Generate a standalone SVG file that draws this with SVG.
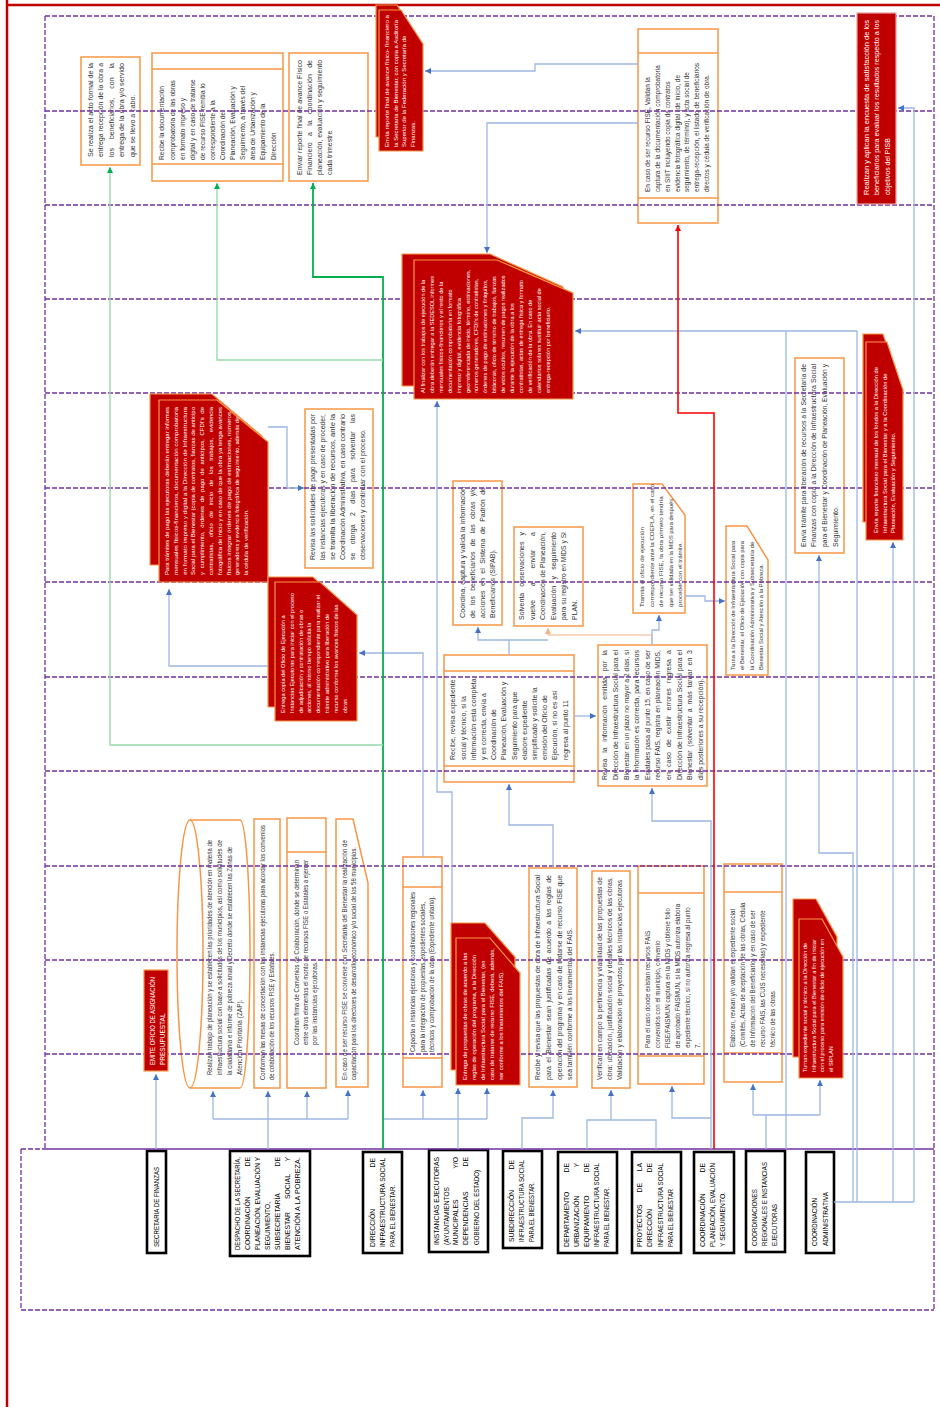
<svg xmlns="http://www.w3.org/2000/svg" width="940" height="1407" viewBox="0 0 940 1407">
<defs>
<style>
.t{font-family:"Liberation Sans",Arial,sans-serif;font-size:7px;fill:#333}
.w{fill:#fff}
.ob{fill:#fff;stroke:#f79646;stroke-width:1.5}
.ol{fill:none;stroke:#f79646;stroke-width:1.5}
.rb{fill:#c00000;stroke:#f79646;stroke-width:1.2}
.hd{fill:#fff;stroke:#000;stroke-width:2.6}
.ht{font-family:"Liberation Sans",Arial,sans-serif;font-size:6.8px;fill:#000}
.sep{fill:none;stroke:#7030a0;stroke-width:1.3;stroke-dasharray:5 2}
.fr{fill:none;stroke:#7030a0;stroke-width:1.3}
.cb{fill:none;stroke:#9db7e4;stroke-width:1.3}
.cg{fill:none;stroke:#00b050;stroke-width:1.8}
.clg{fill:none;stroke:#95d9aa;stroke-width:1.3}
.cr{fill:none;stroke:#ff0000;stroke-width:1.6}
.co{fill:none;stroke:#f8cbad;stroke-width:1.3}
</style>
<marker id="mb" viewBox="0 0 10 10" refX="10" refY="5" markerWidth="6" markerHeight="6" markerUnits="userSpaceOnUse" orient="auto"><path d="M0,0L10,5L0,10z" fill="#4472c4"/></marker>
<marker id="mg" viewBox="0 0 10 10" refX="10" refY="5" markerWidth="6" markerHeight="6" markerUnits="userSpaceOnUse" orient="auto"><path d="M0,0L10,5L0,10z" fill="#00b050"/></marker>
<marker id="mr" viewBox="0 0 10 10" refX="10" refY="5" markerWidth="6" markerHeight="6" markerUnits="userSpaceOnUse" orient="auto"><path d="M0,0L10,5L0,10z" fill="#ff0000"/></marker>
<marker id="mo" viewBox="0 0 10 10" refX="10" refY="5" markerWidth="6" markerHeight="6" markerUnits="userSpaceOnUse" orient="auto"><path d="M0,0L10,5L0,10z" fill="#f4b183"/></marker>
</defs>
<rect width="940" height="1407" fill="#fff"/>

<!-- headers -->
<g id="h-secretaria-finanzas">
<rect class="hd" x="147" y="1151" width="19" height="102"/>
<g transform="translate(147 1253) rotate(-90)" class="ht">
<text x="6" y="12.4" textLength="80" lengthAdjust="spacingAndGlyphs">SECRETARIA DE FINANZAS</text>
</g></g>
<g id="h-despacho">
<rect class="hd" x="230" y="1151" width="80" height="105"/>
<g transform="translate(230 1256) rotate(-90)" class="ht">
<text x="6" y="10.4" textLength="93" lengthAdjust="spacingAndGlyphs">DESPACHO DE LA SECRETARÍA,</text>
<text y="20.4"><tspan x="6">COORDINACIÓN</tspan><tspan x="99" text-anchor="end">DE</tspan></text>
<text x="6" y="30.4" textLength="93" lengthAdjust="spacingAndGlyphs">PLANEACIÓN, EVALUACIÓN Y</text>
<text x="6" y="40.4" textLength="48" lengthAdjust="spacingAndGlyphs">SEGUIMIENTO,</text>
<text y="50.4"><tspan x="6">SUBSECRETARÍA</tspan><tspan x="99" text-anchor="end">DE</tspan></text>
<text y="60.4"><tspan x="6">BIENESTAR</tspan><tspan x="57">SOCIAL</tspan><tspan x="99" text-anchor="end">Y</tspan></text>
<text x="6" y="70.4" textLength="93" lengthAdjust="spacingAndGlyphs">ATENCIÓN A LA POBREZA.</text>
</g></g>
<g id="h-direccion">
<rect class="hd" x="363" y="1152" width="39" height="101"/>
<g transform="translate(363 1253) rotate(-90)" class="ht">
<text y="12.3"><tspan x="6">DIRECCIÓN</tspan><tspan x="95" text-anchor="end">DE</tspan></text>
<text x="6" y="22.3" textLength="89" lengthAdjust="spacingAndGlyphs">INFRAESTRUCTURA SOCIAL</text>
<text x="6" y="32.3" textLength="62" lengthAdjust="spacingAndGlyphs">PARA EL BIENESTAR.</text>
</g></g>
<g id="h-instancias">
<rect class="hd" x="429" y="1150" width="59" height="102"/>
<g transform="translate(429 1252) rotate(-90)" class="ht">
<text x="7" y="10.3" textLength="88" lengthAdjust="spacingAndGlyphs">INSTANCIAS EJECUTORAS</text>
<text x="7" y="19.6" textLength="58" lengthAdjust="spacingAndGlyphs">(AYUNTAMIENTOS</text>
<text y="29.3"><tspan x="7">MUNICIPALES</tspan><tspan x="95" text-anchor="end">Y/O</tspan></text>
<text y="39.3"><tspan x="7">DEPENDENCIAS</tspan><tspan x="95" text-anchor="end">DE</tspan></text>
<text x="7" y="50" textLength="75" lengthAdjust="spacingAndGlyphs">GOBIERNO DEL ESTADO)</text>
</g></g>
<g id="h-subdireccion">
<rect class="hd" x="503" y="1151" width="39" height="97"/>
<g transform="translate(503 1248) rotate(-90)" class="ht">
<text y="11.3"><tspan x="6">SUBDIRECCIÓN</tspan><tspan x="88" text-anchor="end">DE</tspan></text>
<text x="6" y="21.3" textLength="82" lengthAdjust="spacingAndGlyphs">INFRAESTRUCTURA SOCIAL</text>
<text x="6" y="31.3" textLength="60" lengthAdjust="spacingAndGlyphs">PARA EL BIENESTAR.</text>
</g></g>
<g id="h-departamento">
<rect class="hd" x="558" y="1152" width="59" height="101"/>
<g transform="translate(558 1253) rotate(-90)" class="ht">
<text y="11.3"><tspan x="6">DEPARTAMENTO</tspan><tspan x="90" text-anchor="end">DE</tspan></text>
<text y="21.3"><tspan x="6">URBANIZACIÓN</tspan><tspan x="90" text-anchor="end">Y</tspan></text>
<text y="31.3"><tspan x="6">EQUIPAMIENTO</tspan><tspan x="90" text-anchor="end">DE</tspan></text>
<text x="6" y="41.3" textLength="84" lengthAdjust="spacingAndGlyphs">INFRAESTRUCTURA SOCIAL</text>
<text x="6" y="51.3" textLength="60" lengthAdjust="spacingAndGlyphs">PARA EL BIENESTAR.</text>
</g></g>
<g id="h-proyectos">
<rect class="hd" x="632" y="1152" width="49" height="101"/>
<g transform="translate(632 1253) rotate(-90)" class="ht">
<text y="10.3"><tspan x="6">PROYECTOS</tspan><tspan x="60.5">DE</tspan><tspan x="90" text-anchor="end">LA</tspan></text>
<text y="20.3"><tspan x="6">DIRECCIÓN</tspan><tspan x="90" text-anchor="end">DE</tspan></text>
<text x="6" y="31.3" textLength="84" lengthAdjust="spacingAndGlyphs">INFRAESTRUCTURA SOCIAL</text>
<text x="6" y="41.3" textLength="58" lengthAdjust="spacingAndGlyphs">PARA EL BIENESTAR</text>
</g></g>
<g id="h-coord-planeacion">
<rect class="hd" x="694" y="1152" width="40" height="101"/>
<g transform="translate(694 1253) rotate(-90)" class="ht">
<text y="11.3"><tspan x="6">COORDINACIÓN</tspan><tspan x="90" text-anchor="end">DE</tspan></text>
<text x="6" y="21.3" textLength="84" lengthAdjust="spacingAndGlyphs">PLANEACIÓN, EVALUACIÓN</text>
<text x="6" y="31.3" textLength="55" lengthAdjust="spacingAndGlyphs">Y SEGUIMIENTO.</text>
</g></g>
<g id="h-coord-regionales">
<rect class="hd" x="746" y="1151" width="39" height="101"/>
<g transform="translate(746 1252) rotate(-90)" class="ht">
<text x="6" y="11.3" textLength="57" lengthAdjust="spacingAndGlyphs">COORDINACIONES</text>
<text x="6" y="21.3" textLength="84" lengthAdjust="spacingAndGlyphs">REGIONALES E INSTANCIAS</text>
<text x="6" y="31.3" textLength="42" lengthAdjust="spacingAndGlyphs">EJECUTORAS</text>
</g></g>
<g id="h-coord-administrativa">
<rect class="hd" x="806" y="1152" width="28" height="101"/>
<g transform="translate(806 1253) rotate(-90)" class="ht">
<text x="7" y="11.3" textLength="48" lengthAdjust="spacingAndGlyphs">COORDINACIÓN</text>
<text x="7" y="22.3" textLength="54" lengthAdjust="spacingAndGlyphs">ADMINISTRATIVA</text>
</g></g>

<!-- orange nodes -->
<g id="n-acto-entrega">
<rect class="ob" x="81" y="57" width="59" height="108"/>
<g transform="translate(81 165) rotate(-90)" class="t">
<text x="8" y="11.5" textLength="94" lengthAdjust="spacingAndGlyphs">Se realiza el acto formal de la</text>
<text x="8" y="22" textLength="94" lengthAdjust="spacingAndGlyphs">entrega recepción de la obra a</text>
<text x="8" y="32.5" textLength="94" lengthAdjust="spacing" style="word-spacing:7px">los beneficiarios, con la</text>
<text x="8" y="43" textLength="94" lengthAdjust="spacingAndGlyphs">entrega de la obra y/o servido</text>
<text x="8" y="53.5">que se llevo a cabo.</text>
</g></g>
<g id="n-recibe-documentacion">
<rect class="ob" x="152" y="53" width="131" height="128"/>
<path class="ol" d="M152,69H283M152,164H283"/>
<g transform="translate(152 181) rotate(-90)" class="t" style="font-size:6.6px">
<text x="21" y="12.4">Recibe la documentación</text>
<text x="21" y="22.5">comprobatoria de las obras</text>
<text x="21" y="32.6">en formato impreso y</text>
<text x="21" y="42.7">digital y en caso de tratarse</text>
<text x="21" y="52.8">de recurso FISE remitía lo</text>
<text x="21" y="62.9">correspondiente a la</text>
<text x="21" y="73">Coordinación de</text>
<text x="21" y="83.1">Planeación, Evaluación y</text>
<text x="21" y="93.2">Seguimiento, a través del</text>
<text x="21" y="103.3">área de Urbanización y</text>
<text x="21" y="113.4">Equipamiento de la</text>
<text x="21" y="123.5">Dirección</text>
</g></g>
<g id="n-reporte-final-trimestre">
<rect class="ob" x="289" y="53" width="79" height="128"/>
<g transform="translate(289 181) rotate(-90)" class="t">
<text x="6" y="13.4" textLength="115" lengthAdjust="spacingAndGlyphs">Enviar reporte final de avance Físico</text>
<text x="6" y="23.4" textLength="115" lengthAdjust="spacing" style="word-spacing:4.4px">Financiero a la coordinación de</text>
<text x="6" y="33.4" textLength="115" lengthAdjust="spacingAndGlyphs">planeación, evaluación y seguimiento</text>
<text x="6" y="43.4">cada trimestre</text>
</g></g>
<g id="n-valida-fise">
<rect class="ob" x="638" y="29" width="80" height="194"/>
<path class="ol" d="M638,53H718M638,198H718"/>
<g transform="translate(638 223) rotate(-90)" class="t" style="font-size:6.5px">
<text x="31" y="12.4">En caso de ser recurso FISE, Validan la</text>
<text x="31" y="22.1">captura de la documentación comprobatoria</text>
<text x="31" y="31.8">en SIIIT incluyendo copia de contratos</text>
<text x="31" y="41.5">evidencia fotográfica digital (de inicio, de</text>
<text x="31" y="51.2">seguimiento, de término), y acta social de</text>
<text x="31" y="60.9">entrega-recepción, el listado de beneficiarios</text>
<text x="31" y="70.6">directos y cédula de verificación de obra.</text>
</g></g>
<g id="n-revisa-solicitudes-pago">
<rect class="ob" x="305" y="409" width="68" height="159"/>
<g transform="translate(305 568) rotate(-90)" class="t">
<text x="8" y="10.4" textLength="146" lengthAdjust="spacingAndGlyphs">Revisa las solicitudes de pago presentadas por</text>
<text x="8" y="20.4" textLength="146" lengthAdjust="spacingAndGlyphs">las instancias ejecutoras y en caso de proceder,</text>
<text x="8" y="30.4" textLength="146" lengthAdjust="spacingAndGlyphs">se tramita la liberación de recursos, ante la</text>
<text x="8" y="40.4" textLength="146" lengthAdjust="spacingAndGlyphs">Coordinación Administrativa, en caso contrario</text>
<text x="8" y="50.4" textLength="146" lengthAdjust="spacing" style="word-spacing:6.5px">se otorga 2 días para solventar las</text>
<text x="8" y="60.4">observaciones y continuar con el proceso.</text>
</g></g>
<g id="n-sipab">
<rect class="ob" x="453" y="481" width="49" height="144"/>
<g transform="translate(453 625) rotate(-90)" class="t">
<text x="7" y="12.4" textLength="131" lengthAdjust="spacingAndGlyphs">Coordina, captura y valida la información</text>
<text x="7" y="22.4" textLength="131" lengthAdjust="spacing" style="word-spacing:3.3px">de los beneficiarios de las obras y/o</text>
<text x="7" y="32.4" textLength="131" lengthAdjust="spacing" style="word-spacing:2.5px">acciones en el Sistema de Padrón de</text>
<text x="7" y="42.4">Beneficiarios (SIPAB).</text>
</g></g>
<g id="n-solventa">
<rect class="ob" x="514" y="527" width="69" height="99"/>
<g transform="translate(514 626) rotate(-90)" class="t">
<text x="6" y="10.4" textLength="88" lengthAdjust="spacing" style="word-spacing:4.1px">Solventa observaciones y</text>
<text x="6" y="20.9" textLength="88" lengthAdjust="spacing" style="word-spacing:11.7px">vuelve a enviar a</text>
<text x="6" y="31.4" textLength="88" lengthAdjust="spacingAndGlyphs">Coordinación de Planeación,</text>
<text x="6" y="41.9" textLength="88" lengthAdjust="spacing" style="word-spacing:4.3px">Evaluación y seguimiento</text>
<text x="6" y="52.4" textLength="88" lengthAdjust="spacingAndGlyphs">para su registro en MIDS y SI</text>
<text x="6" y="62.9">PLAN.</text>
</g></g>
<g id="n-revisa-expediente">
<rect class="ob" x="444" y="655" width="130" height="127"/>
<path class="ol" d="M444,671H574M444,766H574"/>
<g transform="translate(444 782) rotate(-90)" class="t">
<text x="22" y="11.4">Recibe, revisa expediente</text>
<text x="22" y="21.6">social y técnico, si la</text>
<text x="22" y="31.8">información está completa</text>
<text x="22" y="42">y es correcta, envía a</text>
<text x="22" y="52.2">Coordinación de</text>
<text x="22" y="62.4">Planeación, Evaluación y</text>
<text x="22" y="72.6">Seguimiento para que</text>
<text x="22" y="82.8">elabore expediente</text>
<text x="22" y="93">simplificado y solicite la</text>
<text x="22" y="103.2">emisión del Oficio de</text>
<text x="22" y="113.4">Ejecución, si no es así</text>
<text x="22" y="123.6">regresa al punto 11</text>
</g></g>
<g id="n-revisa-informacion">
<rect class="ob" x="598" y="645" width="109" height="141"/>
<g transform="translate(598 786) rotate(-90)" class="t">
<text x="6" y="9.4" textLength="130" lengthAdjust="spacing" style="word-spacing:3.8px">Revisa la información emitida por la</text>
<text x="6" y="20" textLength="130" lengthAdjust="spacingAndGlyphs">Dirección de Infraestructura Social para el</text>
<text x="6" y="30.6" textLength="130" lengthAdjust="spacingAndGlyphs">Bienestar en un plazo no mayor a 2 días, si</text>
<text x="6" y="41.2" textLength="130" lengthAdjust="spacingAndGlyphs">la información es correcta, para recursos</text>
<text x="6" y="51.8" textLength="130" lengthAdjust="spacingAndGlyphs">Estatales pasa al punto 15, en caso de ser</text>
<text x="6" y="62.4" textLength="130" lengthAdjust="spacingAndGlyphs">recurso FAIS, registra en planeación MIDS,</text>
<text x="6" y="73" textLength="130" lengthAdjust="spacing" style="word-spacing:3.3px">en caso de existir errores regresa a</text>
<text x="6" y="83.6" textLength="130" lengthAdjust="spacingAndGlyphs">Dirección de Infraestructura Social para el</text>
<text x="6" y="94.2" textLength="130" lengthAdjust="spacing" style="word-spacing:1.8px">Bienestar (solventar a más tardar en 3</text>
<text x="6" y="104.8">días posteriores a su recepción).</text>
</g></g>
<g id="n-tramita-oficio">
<path class="ob" d="M633,484H662L685,515V613H633Z"/>
<g transform="translate(633 613) rotate(-90)" class="t" style="font-size:6.2px">
<text x="6" y="11">Tramita el oficio de ejecución</text>
<text x="6" y="20.5">correspondiente ante la COEPLA, en el caso</text>
<text x="6" y="30">de recurso FISE, la obra primero tendría</text>
<text x="6" y="39.5" textLength="108" lengthAdjust="spacingAndGlyphs">que ser validada en la MIDS para después</text>
<text x="6" y="49">proceder con el trámite.</text>
</g></g>
<g id="n-turna-oficio">
<path class="ob" d="M726,526H747L768,560V675H726Z"/>
<g transform="translate(726 675) rotate(-90)" class="t" style="font-size:5.8px">
<text x="5" y="9">Turna a la Dirección de Infraestructura Social para</text>
<text x="5" y="18.3">el Bienestar, el Oficio de Ejecución con copia para</text>
<text x="5" y="27.6">la Coordinación Administrativa y Subsecretaría de</text>
<text x="5" y="36.9">Bienestar Social y Atención a la Pobreza.</text>
</g></g>
<g id="n-tramite-liberacion">
<rect class="ob" x="795" y="358" width="49" height="195"/>
<g transform="translate(795 553) rotate(-90)" class="t">
<text x="6" y="10.5" textLength="183" lengthAdjust="spacingAndGlyphs">Envía trámite para liberación de recursos a la Secretaría de</text>
<text x="6" y="21.3" textLength="183" lengthAdjust="spacingAndGlyphs">Finanzas con copia a la Dirección de Infraestructura Social</text>
<text x="6" y="32.1" textLength="183" lengthAdjust="spacingAndGlyphs">para el Bienestar y Coordinación de Planeación, Evaluación y</text>
<text x="6" y="42.9">Seguimiento.</text>
</g></g>
<g id="n-planeacion-zap">
<path class="ob" d="M190,820H240A10,134 0 0 1 240,1088H190A13,134 0 0 1 190,820Z"/>
<path class="ol" d="M190,820A13,134 0 0 1 190,1088"/>
<g transform="translate(200 1088) rotate(-90)" class="t" style="font-size:6.5px">
<text x="13" y="12.3" textLength="235" lengthAdjust="spacingAndGlyphs">Realizan trabajo de planeación y se establecen las prioridades de atención en materia de</text>
<text x="13" y="22.3" textLength="235" lengthAdjust="spacingAndGlyphs">infraestructura social con base a solicitudes de los municipios, así como solicitudes de</text>
<text x="13" y="32.3" textLength="228" lengthAdjust="spacingAndGlyphs">la ciudadanía e informe de pobreza anual y Decreto donde se establecen las Zonas de</text>
<text x="13" y="42.3">Atención Prioritaria (ZAP).</text>
</g></g>
<g id="n-mesas-concertacion">
<rect class="ob" x="254" y="819" width="26" height="269"/>
<g transform="translate(254 1088) rotate(-90)" class="t" style="font-size:6.5px">
<text x="8" y="11.3" textLength="255" lengthAdjust="spacingAndGlyphs">Conforman las mesas de concertación con las instancias ejecutoras para acordar los convenios</text>
<text x="8" y="20.3" textLength="128" lengthAdjust="spacingAndGlyphs">de colaboración de los recursos FISE y Estatales.</text>
</g></g>
<g id="n-firma-convenios">
<rect class="ob" x="287" y="818" width="39" height="270"/>
<path class="ol" d="M287,852H326"/>
<g transform="translate(287 1088) rotate(-90)" class="t" style="font-size:6.5px">
<text x="43" y="12.3" textLength="185" lengthAdjust="spacingAndGlyphs">Coordinan firma de Convenios de Colaboración, donde se determinan</text>
<text x="43" y="21.3" textLength="185" lengthAdjust="spacingAndGlyphs">entre otros elementos el monto de recursos FISE o Estatales a ejercer</text>
<text x="43" y="30.3">por las instancias ejecutoras.</text>
</g></g>
<g id="n-capacitacion-fise">
<path class="ob" d="M336,819H353L368,883V1087H336Z"/>
<g transform="translate(336 1087) rotate(-90)" class="t" style="font-size:6.3px">
<text x="7" y="11.2" textLength="240" lengthAdjust="spacingAndGlyphs">En caso de ser recurso FISE se conviene con Secretaría del Bienestar la realización de</text>
<text x="7" y="20.2" textLength="233" lengthAdjust="spacingAndGlyphs">capacitación para los directores de desarrollo económico y/o social de los 58 municipios.</text>
</g></g>
<g id="n-capacita-instancias">
<rect class="ob" x="403" y="857" width="39" height="230"/>
<path class="ol" d="M403,887H442M403,1058H442"/>
<g transform="translate(403 1087) rotate(-90)" class="t" style="font-size:6.3px">
<text x="35" y="12.2" textLength="160" lengthAdjust="spacingAndGlyphs">Capacita a instancias ejecutoras y coordinaciones regionales</text>
<text x="35" y="21.7" textLength="150" lengthAdjust="spacingAndGlyphs">para la integración de propuestas, expedientes sociales,</text>
<text x="35" y="31.2" textLength="156" lengthAdjust="spacingAndGlyphs">técnicos y comprobación de la obra (Expediente unitario).</text>
</g></g>
<g id="n-recibe-propuestas">
<rect class="ob" x="529" y="868" width="48" height="219"/>
<g transform="translate(529 1087) rotate(-90)" class="t">
<text x="7" y="11.4" textLength="205" lengthAdjust="spacingAndGlyphs">Recibe y revisa que las propuestas de obra de Infraestructura Social</text>
<text x="7" y="22" textLength="205" lengthAdjust="spacing" style="word-spacing:1.4px">para el Bienestar sean justificadas de acuerdo a las reglas de</text>
<text x="7" y="32.6" textLength="205" lengthAdjust="spacingAndGlyphs">operación del programa y en caso de tratarse de recurso FISE que</text>
<text x="7" y="43.2" textLength="152" lengthAdjust="spacingAndGlyphs">sea también conforme a los lineamientos del FAIS.</text>
</g></g>
<g id="n-verifican-campo">
<rect class="ob" x="592" y="871" width="38" height="217"/>
<g transform="translate(592 1088) rotate(-90)" class="t">
<text x="8" y="10.4" textLength="203" lengthAdjust="spacingAndGlyphs">Verifican en campo la pertinencia y viabilidad de las propuestas de</text>
<text x="8" y="20.4" textLength="203" lengthAdjust="spacingAndGlyphs">obra: ubicación, justificación social y detalles técnicos de las obras.</text>
<text x="8" y="30.4" textLength="200" lengthAdjust="spacingAndGlyphs">Validación y elaboración de proyectos por las instancias ejecutoras</text>
</g></g>
<g id="n-mids-faismun">
<rect class="ob" x="638" y="866" width="66" height="218"/>
<path class="ol" d="M638,893H704M638,1056H704"/>
<g transform="translate(638 1084) rotate(-90)" class="t" style="font-size:6.3px">
<text x="36" y="12.3">Para el caso donde existan recursos FAIS</text>
<text x="36" y="22.3">convenidos con el municipio, convenio</text>
<text x="36" y="32.3">FISE/FAISMUN captura en la MIDS y obtiene folio</text>
<text x="36" y="42.3">de aprobado FAISMUN, si la MIDS autoriza elabora</text>
<text x="36" y="52.3">expediente técnico, si no autoriza regresa al punto</text>
<text x="36" y="62.3">7.</text>
</g></g>
<g id="n-expediente-social">
<rect class="ob" x="724" y="864" width="58" height="218"/>
<path class="ol" d="M724,892H782M724,1053H782"/>
<g transform="translate(724 1082) rotate(-90)" class="t" style="font-size:6.3px">
<text x="35" y="11.3">Elaboran, revisan y/o validan el expediente social</text>
<text x="35" y="21.3">(Comités, Actas de aceptación de las obras, Cédula</text>
<text x="35" y="31.3">de Información del Beneficiario) y en caso de ser</text>
<text x="35" y="41.3">recurso FAIS, las CUIS necesarias) y expediente</text>
<text x="35" y="51.3">técnico de las obras</text>
</g></g>

<!-- frame and stage separators -->
<g id="frame">
<path d="M7,0V1407M7,5H940" fill="none" stroke="#c00000" stroke-width="2.5"/>
<path class="sep" d="M45,111H934M45,205H934M45,299H934M45,393H934M45,488H934M45,582H934M45,677H934M45,771H934M45,866H934M45,960H934M45,1054H934"/>
<path class="sep" d="M45,16H934M45,16V1149M934,16V1310M21,1149V1310M21,1310H934M21,1149H45"/>
<path class="fr" d="M45,1149H934"/>
</g>

<!-- connectors -->
<g id="connectors">
<path class="cb" d="M156,1149V1074" marker-end="url(#mb)"/>
<path class="cb" d="M213,1119H348"/>
<path class="cb" d="M213,1119V1091" marker-end="url(#mb)"/>
<path class="cb" d="M268,1149V1091" marker-end="url(#mb)"/>
<path class="cb" d="M307,1119V1091" marker-end="url(#mb)"/>
<path class="cb" d="M348,1119V1090" marker-end="url(#mb)"/>
<path class="cb" d="M383,1119H487"/>
<path class="cb" d="M423,1119V1090" marker-end="url(#mb)"/>
<path class="cb" d="M487,1119V1088" marker-end="url(#mb)"/>
<path class="cb" d="M458,1149V1088" marker-end="url(#mb)"/>
<path class="cb" d="M522,1149V1118H553V1090" marker-end="url(#mb)"/>
<path class="cb" d="M553,868V825H509V784" marker-end="url(#mb)"/>
<path class="cb" d="M509,655V640H478V627" marker-end="url(#mb)"/>
<path class="cb" d="M509,640H548"/>
<path class="co" d="M652,645V635H548V628" marker-end="url(#mo)"/>
<path class="cb" d="M574,716H596" marker-end="url(#mb)"/>
<path class="cb" d="M652,645V630H659V615" marker-end="url(#mb)"/>
<path class="cb" d="M685,596H705V601H725" marker-end="url(#mb)"/>
<path class="cb" d="M711,1149V821H652V788" marker-end="url(#mb)"/>
<path class="cb" d="M711,1118H672V1086" marker-end="url(#mb)"/>
<path class="cb" d="M587,1149V1120H656V1149"/>
<path class="cb" d="M611,1120V1090" marker-end="url(#mb)"/>
<path class="cb" d="M766,1149V1115M753,1115H820"/>
<path class="cb" d="M753,1115V1084" marker-end="url(#mb)"/>
<path class="cb" d="M820,1115V1080" marker-end="url(#mb)"/>
<path class="cb" d="M452,923V792H437V401" marker-end="url(#mb)"/>
<path class="cb" d="M423,857V653H359" marker-end="url(#mb)"/>
<path class="cb" d="M268,666H169V589" marker-end="url(#mb)"/>
<path class="cb" d="M268,427H287V488H304" marker-end="url(#mb)"/>
<path class="cb" d="M638,64H535V71H425" marker-end="url(#mb)"/>
<path class="cb" d="M638,123H487V253" marker-end="url(#mb)"/>
<path class="cb" d="M834,1202H914M786,1149V331"/>
<path class="cb" d="M914,1202V108H898" marker-end="url(#mb)"/>
<path class="cb" d="M893,1202V542" marker-end="url(#mb)"/>
<path class="cb" d="M857,1202V331H575" marker-end="url(#mb)"/>
<path class="cb" d="M853,1202V853H819V555" marker-end="url(#mb)"/>
<path class="cg" d="M383,1149V277H313V183" marker-end="url(#mg)"/>
<path class="clg" d="M383,745H110V167" marker-end="url(#mg)"/>
<path class="clg" d="M383,360H217V183" marker-end="url(#mg)"/>
<path class="cr" d="M714,1149V413H678V225" marker-end="url(#mr)"/>
</g>

<!-- red nodes -->
<g id="n-reporte-final-secretaria">
<path class="rb" d="M376,5H397L419,40V137H376Z"/>
<path class="rb" d="M379,10H401L423,44V151H379Z"/>
<g transform="translate(379 151) rotate(-90)" class="t w" style="font-size:6px">
<text x="4" y="10" textLength="132" lengthAdjust="spacingAndGlyphs">Envía reporte final de avance físico- financiero a</text>
<text x="4" y="18.5" textLength="127" lengthAdjust="spacingAndGlyphs">la Secretaría de Bienestar, con copia a Auditoría</text>
<text x="4" y="27">Superior de la Federación y Secretaría de</text>
<text x="4" y="35.5">Finanzas.</text>
</g></g>
<g id="n-encuesta-satisfaccion">
<rect class="rb" x="857" y="13" width="39" height="191" style="stroke:#e6a0a0"/>
<g transform="translate(857 204) rotate(-90)" class="t w">
<text x="9" y="11.5" textLength="175" lengthAdjust="spacingAndGlyphs">Realizan y aplican la encuesta de satisfacción de los</text>
<text x="9" y="22" textLength="175" lengthAdjust="spacingAndGlyphs">beneficiarios para evaluar los resultados respecto a los</text>
<text x="9" y="32.5">objetivos del PISB</text>
</g></g>
<g id="n-documentacion-final">
<path class="rb" d="M402,254H490L563,287V386H402Z"/>
<path class="rb" d="M414,260H497L573,293V399H414Z"/>
<g transform="translate(414 399) rotate(-90)" class="t w" style="font-size:5.6px">
<text x="6" y="11">Al finalizar con los trabajos de ejecución de la</text>
<text x="6" y="19.9">obra deberán entregar a la SEDESOL informes</text>
<text x="6" y="28.8">mensuales físicos-financieros y el resto de la</text>
<text x="6" y="37.7">documentación comprobatoria en formato</text>
<text x="6" y="46.6">impreso y digital, evidencia fotográfica</text>
<text x="6" y="55.5">georreferenciada de inicio, término, estimaciones,</text>
<text x="6" y="64.4">números generadores, CFDI's de contratistas,</text>
<text x="6" y="73.3">órdenes de pago de estimaciones y finiquitos,</text>
<text x="6" y="82.2">bitácoras, oficio de término de trabajos, fianzas</text>
<text x="6" y="91.1">de vicios ocultos, resumen de pagos realizados</text>
<text x="6" y="100">durante la ejecución de la obra a los</text>
<text x="6" y="108.9">contratistas, actas de entrega física y formato</text>
<text x="6" y="117.8">de verificación de la obra. En caso de</text>
<text x="6" y="126.7">calendarios solares sustituir acta social de</text>
<text x="6" y="135.6">entrega-recepción por beneficiario.</text>
</g></g>
<g id="n-tramites-pago">
<path class="rb" d="M150,394H212L262,436V565H150Z"/>
<path class="rb" d="M159,400H217L268,442V582H159Z"/>
<g transform="translate(159 582) rotate(-90)" class="t w" style="font-size:6px">
<text x="7" y="10" textLength="168" lengthAdjust="spacingAndGlyphs">Para trámites de pago las ejecutoras deberán entregar informes</text>
<text x="7" y="18.8" textLength="168" lengthAdjust="spacingAndGlyphs">mensuales físicos-financieros, documentación comprobatoria</text>
<text x="7" y="27.6" textLength="168" lengthAdjust="spacingAndGlyphs">en formato impreso y digital a la Dirección de Infraestructura</text>
<text x="7" y="36.4" textLength="168" lengthAdjust="spacingAndGlyphs">Social para el Bienestar (copia de contratos, fianzas de anticipo</text>
<text x="7" y="45.2" textLength="168" lengthAdjust="spacing" style="word-spacing:2px">y cumplimiento, órdenes de pago de anticipos, CFDI's de</text>
<text x="7" y="54" textLength="168" lengthAdjust="spacing" style="word-spacing:3.9px">contratistas, oficio de inicio de los trabajos, evidencia</text>
<text x="7" y="62.8" textLength="168" lengthAdjust="spacingAndGlyphs">fotográfica de inicio y en caso de que la obra ya tenga avances</text>
<text x="7" y="71.6" textLength="163" lengthAdjust="spacingAndGlyphs">físicos integrar órdenes de pago de estimaciones, números</text>
<text x="7" y="80.4" textLength="158" lengthAdjust="spacingAndGlyphs">generadores y evidencia fotográfica de seguimiento, además de</text>
<text x="7" y="89.2">la cédula de verificación.</text>
</g></g>
<g id="n-copia-oficio-ejecucion">
<path class="rb" d="M268,577H313L350,610V707H268Z"/>
<path class="rb" d="M275,582H320L357,615V721H275Z"/>
<g transform="translate(275 721) rotate(-90)" class="t w" style="font-size:5.6px">
<text x="8" y="10">Entrega copia del Oficio de Ejecución a</text>
<text x="8" y="18.8">Instancias Ejecutoras para iniciar con el proceso</text>
<text x="8" y="27.6">de adjudicación y contratación de obras o</text>
<text x="8" y="36.4">acciones, al mismo tiempo solicita la</text>
<text x="8" y="45.2">documentación correspondiente para realizar el</text>
<text x="8" y="54">trámite administrativo para liberación de</text>
<text x="8" y="62.8">recurso conforme los avances físicos de las</text>
<text x="8" y="71.6">obras</text>
</g></g>
<g id="n-reporte-financiero-mensual">
<path class="rb" d="M863,334H883L899,380V522H863Z"/>
<path class="rb" d="M866,342H887L903,390V540H866Z"/>
<g transform="translate(866 540) rotate(-90)" class="t w" style="font-size:5.8px">
<text x="7" y="12">Envía reporte financiero mensual de los fondos a la Dirección de</text>
<text x="7" y="20.5">Infraestructura Social para el Bienestar y a la Coordinación de</text>
<text x="7" y="29">Planeación, Evaluación y Seguimiento.</text>
</g></g>
<g id="n-oficio-asignacion">
<rect class="rb" x="144" y="970" width="24" height="101"/>
<g transform="translate(144 1071) rotate(-90)" class="t w" style="font-size:6.5px">
<text x="6" y="11.3" textLength="88" lengthAdjust="spacingAndGlyphs">EMITE OFICIO DE ASIGNACIÓN</text>
<text x="6" y="21.3">PRESUPUESTAL</text>
</g></g>
<g id="n-entrega-propuestas">
<path class="rb" d="M451,923H485L515,957V1070H451Z"/>
<path class="rb" d="M456,938H490L520,973V1085H456Z"/>
<g transform="translate(456 1085) rotate(-90)" class="t w" style="font-size:5.8px">
<text x="5" y="11">Entrega de propuestas de obras de acuerdo a las</text>
<text x="5" y="20">reglas de operación del programa, a la Dirección</text>
<text x="5" y="29">de Infraestructura Social para el Bienestar, (en</text>
<text x="5" y="38">caso de tratarse de recurso FISE, deberá, además,</text>
<text x="5" y="46.5">ser conforme a los lineamientos del FAIS).</text>
</g></g>
<g id="n-turnan-expediente">
<path class="rb" d="M793,899H816L837,937V1057H793Z"/>
<path class="rb" d="M799,919H822L843,957V1078H799Z"/>
<g transform="translate(799 1078) rotate(-90)" class="t w" style="font-size:5.6px">
<text x="6" y="8">Turnan expediente social y técnico a la Dirección de</text>
<text x="6" y="16.5">Infraestructura Social para el Bienestar a fin de iniciar</text>
<text x="6" y="25">con el proceso para emisión de oficio de ejecución en</text>
<text x="6" y="33.5">el SIPLAN</text>
</g></g>
</svg>
